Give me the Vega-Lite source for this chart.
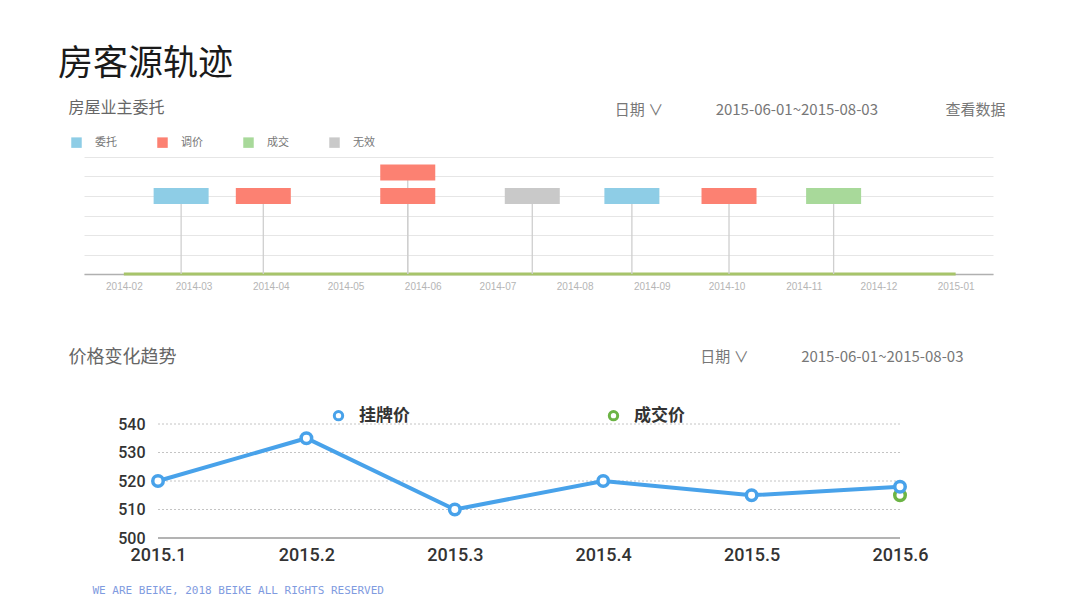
{
  "$schema": "https://vega.github.io/schema/vega-lite/v6.json",
  "background": "white",
  "padding": {"left": 58, "top": 47, "right": 0, "bottom": 0},
  "title": {"text": "房客源轨迹", "anchor": "start", "fontSize": 35, "fontWeight": "normal", "color": "#1a1a1a", "dx": -10, "offset": 17, "font": "Noto Sans CJK SC"},
  "columns": 1,
  "spacing": 57,
  "resolve": {"scale": {"color": "independent"}, "legend": {"color": "independent"}},
  "datasets": {
    "span": [{"start": "2014-02-01", "end": "2015-01-01"}],
    "events": [
      {"date": "2014-02-24", "type": "委托", "level": 4},
      {"date": "2014-03-29", "type": "调价", "level": 4},
      {"date": "2014-05-26", "type": "调价", "level": 4},
      {"date": "2014-05-26", "type": "调价", "level": 5.2},
      {"date": "2014-07-15", "type": "无效", "level": 4},
      {"date": "2014-08-24", "type": "委托", "level": 4},
      {"date": "2014-10-02", "type": "调价", "level": 4},
      {"date": "2014-11-13", "type": "成交", "level": 4}
    ],
    "prices": [
      {"month": "2015.6", "series": "成交价", "price": 515},
      {"month": "2015.1", "series": "挂牌价", "price": 520},
      {"month": "2015.2", "series": "挂牌价", "price": 535},
      {"month": "2015.3", "series": "挂牌价", "price": 510},
      {"month": "2015.4", "series": "挂牌价", "price": 520},
      {"month": "2015.5", "series": "挂牌价", "price": 515},
      {"month": "2015.6", "series": "挂牌价", "price": 518}
    ]
  },
  "concat": [
    {
      "width": 909,
      "height": 117,
      "layer": [
        {
          "data": {"name": "span"},
          "mark": {"type": "rule", "color": "#a7c46a", "strokeWidth": 3},
          "encoding": {
            "x": {
              "field": "start", "type": "temporal",
              "scale": {"type": "utc", "domain": ["2014-01-16", "2015-01-16"]},
              "axis": {
                "format": "%Y-%m", "tickCount": {"interval": "month", "step": 1},
                "labelFontSize": 10, "labelColor": "#b5b5b5", "labelFont": "Liberation Sans", "labelPadding": 7,
                "ticks": false, "grid": false, "domainColor": "#b0b0b0", "domainWidth": 1.5, "zindex": 0,
                "title": "日期 ∨\u3000\u3000\u3000\u20022015-06-01~2015-08-03\u3000\u3000\u3000\u3000\u2002查看数据",
                "titleX": 921, "titleY": -165, "titleAlign": "right", "titleBaseline": "middle",
                "titleFontSize": 15, "titleFontWeight": "normal", "titleColor": "#777", "titleFont": "Noto Sans CJK SC"
              }
            },
            "x2": {"field": "end"},
            "y": {
              "datum": 0, "type": "quantitative",
              "scale": {"domain": [0, 6], "nice": false},
              "axis": {
                "values": [0, 1, 2, 3, 4, 5, 6], "tickCount": 10, "labels": false, "ticks": false, "domain": false,
                "grid": true, "gridColor": "#e6e6e6", "zindex": 0,
                "title": "房屋业主委托", "titleAngle": 0, "titleX": -16, "titleY": -50,
                "titleAlign": "left", "titleBaseline": "middle", "titleFontSize": 16,
                "titleFontWeight": "normal", "titleColor": "#666", "titleFont": "Noto Sans CJK SC"
              }
            }
          }
        },
        {
          "data": {"name": "events"},
          "mark": {"type": "rule", "color": "#cfcfcf", "strokeWidth": 1.3},
          "encoding": {
            "x": {"field": "date", "type": "temporal"},
            "y": {"field": "level", "type": "quantitative"},
            "y2": {"datum": 0}
          }
        },
        {
          "data": {"name": "events"},
          "mark": {"type": "tick", "orient": "horizontal", "size": 55, "thickness": 16, "opacity": 1},
          "encoding": {
            "x": {"field": "date", "type": "temporal"},
            "y": {"field": "level", "type": "quantitative"},
            "color": {
              "field": "type", "type": "nominal",
              "scale": {"domain": ["委托", "调价", "成交", "无效"], "range": ["#8ecde6", "#fc8172", "#a8d99a", "#c9c9c9"]},
              "legend": {
                "orient": "none", "legendX": -13, "legendY": -20, "direction": "horizontal", "title": null,
                "symbolType": "square", "symbolSize": 110, "symbolStrokeWidth": 0,
                "labelFontSize": 11, "labelColor": "#777", "labelOffset": 13, "columnPadding": 40,
                "labelFont": "Noto Sans CJK SC"
              }
            }
          }
        }
      ]
    },
    {
      "width": 816,
      "height": 114,
      "layer": [
        {
          "data": {"values": [{}]},
          "mark": {"type": "rule", "color": "#c4c4c4", "strokeDash": [2, 2], "strokeWidth": 1},
          "encoding": {"x": {"datum": "2015.1", "type": "ordinal", "axis": null}, "x2": {"datum": "2015.6"}, "y": {"datum": 540, "type": "quantitative"}}
        },
        {
          "data": {"values": [{}]},
          "mark": {"type": "rule", "color": "#c4c4c4", "strokeDash": [2, 2], "strokeWidth": 1},
          "encoding": {"x": {"datum": "2015.1", "type": "ordinal", "axis": null}, "x2": {"datum": "2015.6"}, "y": {"datum": 530, "type": "quantitative"}}
        },
        {
          "data": {"values": [{}]},
          "mark": {"type": "rule", "color": "#c4c4c4", "strokeDash": [2, 2], "strokeWidth": 1},
          "encoding": {"x": {"datum": "2015.1", "type": "ordinal", "axis": null}, "x2": {"datum": "2015.6"}, "y": {"datum": 520, "type": "quantitative"}}
        },
        {
          "data": {"values": [{}]},
          "mark": {"type": "rule", "color": "#c4c4c4", "strokeDash": [2, 2], "strokeWidth": 1},
          "encoding": {"x": {"datum": "2015.1", "type": "ordinal", "axis": null}, "x2": {"datum": "2015.6"}, "y": {"datum": 510, "type": "quantitative"}}
        },
        {
          "data": {"values": [{}]},
          "mark": {"type": "rule", "color": "#9a9a9a", "strokeWidth": 1.5},
          "encoding": {"x": {"datum": "2015.1", "type": "ordinal", "axis": null}, "x2": {"datum": "2015.6"}, "y": {"datum": 500, "type": "quantitative"}}
        },
        {
          "data": {"name": "prices"},
          "mark": {"type": "line", "strokeWidth": 4},
          "encoding": {
            "x": {
              "field": "month", "type": "ordinal",
              "scale": {"type": "point", "padding": 0, "range": [74, 816]},
              "axis": {
                "orient": "bottom", "labelAngle": 0, "labelFontSize": 18, "labelFont": "Roboto", "labelFontWeight": 500,
                "labelColor": "#333", "labelPadding": 8, "ticks": false, "grid": false, "domain": false,
                "title": "WE ARE BEIKE, 2018 BEIKE ALL RIGHTS RESERVED",
                "titleX": 8, "titleY": 52, "titleAlign": "left", "titleBaseline": "middle",
                "titleFont": "DejaVu Sans Mono", "titleFontSize": 11, "titleFontWeight": "normal", "titleColor": "#7f9be0"
              }
            },
            "y": {
              "field": "price", "type": "quantitative",
              "scale": {"domain": [500, 540], "nice": false, "zero": false},
              "axis": {
                "values": [500, 510, 520, 530, 540], "tickCount": 10, "offset": -74, "labelOverlap": false,
                "labelFontSize": 16, "labelFont": "Roboto", "labelFontWeight": 500,
                "labelColor": "#333", "labelPadding": 13, "ticks": false, "domain": false, "grid": false,
                "title": "价格变化趋势", "titleAngle": 0, "titleX": -90, "titleY": -67,
                "titleAlign": "left", "titleBaseline": "middle", "titleFontSize": 18,
                "titleFontWeight": "normal", "titleColor": "#666", "titleFont": "Noto Sans CJK SC"
              }
            },
            "color": {
              "field": "series", "type": "nominal",
              "scale": {"domain": ["挂牌价", "成交价"], "range": ["#48a2ea", "#6cb445"]}
            }
          }
        },
        {
          "data": {"name": "prices"},
          "mark": {"type": "point", "filled": false, "fill": "white", "size": 110, "strokeWidth": 3.5, "opacity": 1},
          "encoding": {
            "x": {
              "field": "month", "type": "ordinal",
              "axis": {
                "orient": "top", "labels": false, "ticks": false, "domain": false, "grid": false,
                "title": "日期 ∨\u3000\u3000\u3000\u20022015-06-01~2015-08-03",
                "titleX": 879, "titleY": -68, "titleAlign": "right", "titleBaseline": "middle",
                "titleFontSize": 15, "titleFontWeight": "normal", "titleColor": "#777", "titleFont": "Noto Sans CJK SC"
              }
            },
            "y": {"field": "price", "type": "quantitative"},
            "color": {
              "field": "series", "type": "nominal",
              "legend": {
                "orient": "none", "legendX": 246, "legendY": -17, "direction": "horizontal", "title": null,
                "symbolType": "circle", "symbolSize": 70, "symbolStrokeWidth": 3, "symbolFillColor": "white",
                "labelFontSize": 17, "labelFontWeight": "bold", "labelColor": "#333", "labelOffset": 12,
                "columnPadding": 193, "labelFont": "Noto Sans CJK SC"
              }
            }
          }
        }
      ],
      "resolve": {"axis": {"x": "independent"}}
    }
  ],
  "config": {"view": {"stroke": null}, "font": "Noto Sans CJK SC"}
}
